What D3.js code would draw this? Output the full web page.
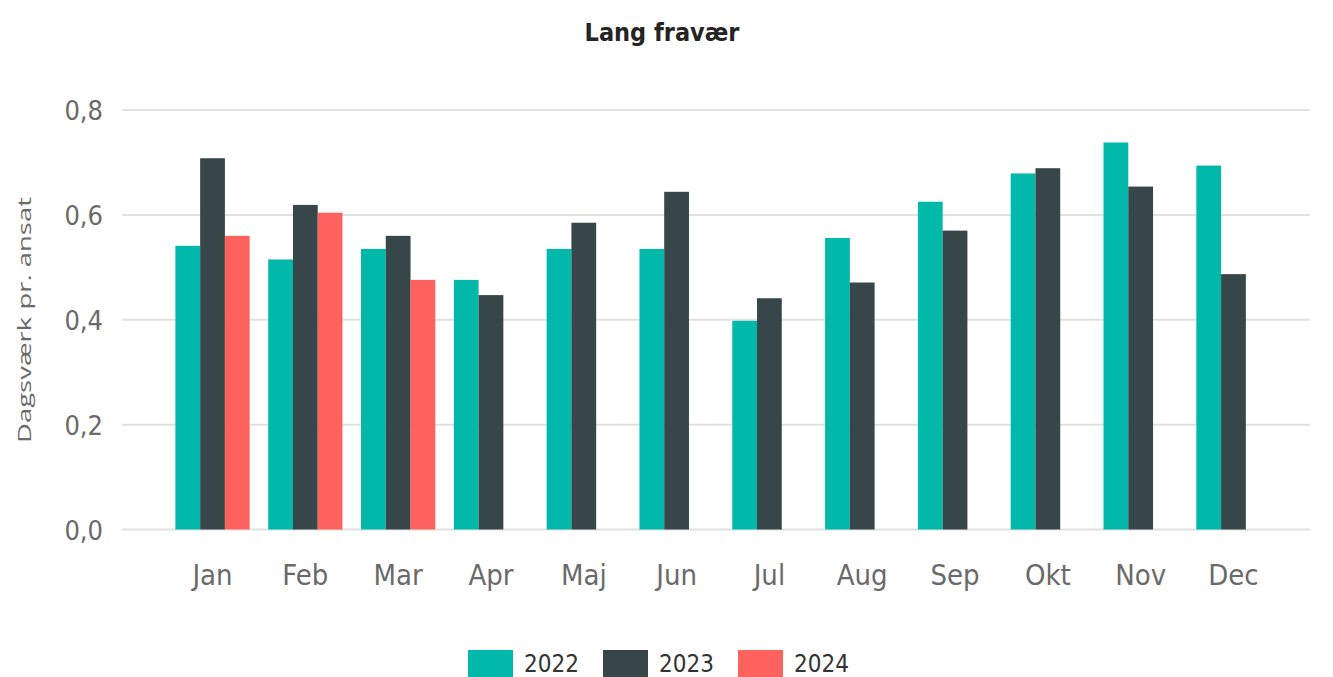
<!DOCTYPE html>
<html>
<head>
<meta charset="utf-8">
<script src="https://cdn.jsdelivr.net/npm/d3@7"></script>
<style>
  body { margin: 0; background: #fff; }
  text { font-family: "DejaVu Sans Condensed", "Liberation Sans Narrow", sans-serif; }
</style>
</head>
<body>
<div id="chart"></div>
<script>
// Lang fravær - dagsværk pr. ansat, per month, 3 years
var months = ["Jan","Feb","Mar","Apr","Maj","Jun","Jul","Aug","Sep","Okt","Nov","Dec"];
var years = ["2022","2023","2024"];
var v2022 = [0.541,0.515,0.535,0.476,0.535,0.535,0.398,0.556,0.625,0.679,0.738,0.694];
var v2023 = [0.708,0.619,0.560,0.447,0.585,0.644,0.441,0.471,0.570,0.689,0.654,0.487];
var v2024 = [0.560,0.604,0.476,null,null,null,null,null,null,null,null,null];
var yTicks = [0,0.2,0.4,0.6,0.8];
var colors = ["#01B8AA","#374649","#FD625E"];

var width = 1333, height = 677;
var series = [v2022, v2023, v2024];

var svg = d3.select("#chart")
  .append("svg")
  .attr("width", width)
  .attr("height", height);

var yScale = d3.scaleLinear()
  .domain([0, 0.8])
  .range([529.5, 110]);

var xScale = d3.scaleBand()
  .domain(months)
  .range([129, 1317])
  .paddingInner(0.2)
  .paddingOuter(0.5);

var xSub = d3.scaleBand()
  .domain(years)
  .range([0, xScale.bandwidth()]);

var colorScale = d3.scaleOrdinal().domain(years).range(colors);

// gridlines
svg.selectAll("line.grid")
  .data(yTicks)
  .enter()
  .append("line")
  .attr("class", "grid")
  .attr("x1", 122)
  .attr("x2", 1310)
  .attr("y1", function(d){ return yScale(d); })
  .attr("y2", function(d){ return yScale(d); })
  .attr("stroke", "#e1e1e1")
  .attr("stroke-width", 2);

// y tick labels
svg.selectAll("text.ytick")
  .data(yTicks)
  .enter()
  .append("text")
  .attr("class", "ytick")
  .attr("x", 103)
  .attr("y", function(d){ return yScale(d) + 10; })
  .attr("text-anchor", "end")
  .attr("fill", "#6a6a6a")
  .style("font-size", "27px")
  .text(function(d){ return d3.format(".1f")(d).replace(".", ","); });

// bars
var rows = [];
months.forEach(function(m, i){
  years.forEach(function(y, j){
    if (series[j][i] != null) rows.push({month: m, year: y, value: series[j][i]});
  });
});

svg.selectAll("rect.bar")
  .data(rows)
  .enter()
  .append("rect")
  .attr("class", "bar")
  .attr("x", function(d){ return xScale(d.month) + xSub(d.year); })
  .attr("width", xSub.bandwidth())
  .attr("y", function(d){ return yScale(d.value); })
  .attr("height", function(d){ return yScale(0) - yScale(d.value); })
  .attr("fill", function(d){ return colorScale(d.year); });

// x labels
svg.selectAll("text.xtick")
  .data(months)
  .enter()
  .append("text")
  .attr("class", "xtick")
  .attr("x", function(d){ return xScale(d) + xScale.bandwidth() / 2; })
  .attr("y", 585)
  .attr("text-anchor", "middle")
  .attr("fill", "#6a6a6a")
  .style("font-size", "29px")
  .text(function(d){ return d; });

// title
svg.append("text")
  .attr("x", 662)
  .attr("y", 41)
  .attr("text-anchor", "middle")
  .attr("fill", "#252423")
  .style("font-size", "25px")
  .style("font-weight", "bold")
  .text("Lang fravær");

// y axis title
svg.append("text")
  .attr("transform", "translate(31,320) rotate(-90)")
  .attr("text-anchor", "middle")
  .attr("fill", "#6a6a6a")
  .style("font-family", "'Open Sans', sans-serif")
  .style("font-size", "19px")
  .attr("textLength", 246)
  .attr("lengthAdjust", "spacingAndGlyphs")
  .text("Dagsværk pr. ansat");

// legend
var legendX = [468, 603, 738];
var legend = svg.selectAll("g.legend")
  .data(years)
  .enter()
  .append("g")
  .attr("class", "legend")
  .attr("transform", function(d, i){ return "translate(" + legendX[i] + ",650)"; });

legend.append("rect")
  .attr("width", 45)
  .attr("height", 27)
  .attr("fill", function(d){ return colorScale(d); });

legend.append("text")
  .attr("x", 56)
  .attr("y", 22)
  .attr("fill", "#333")
  .style("font-size", "24px")
  .text(function(d){ return d; });
</script>
</body>
</html>
